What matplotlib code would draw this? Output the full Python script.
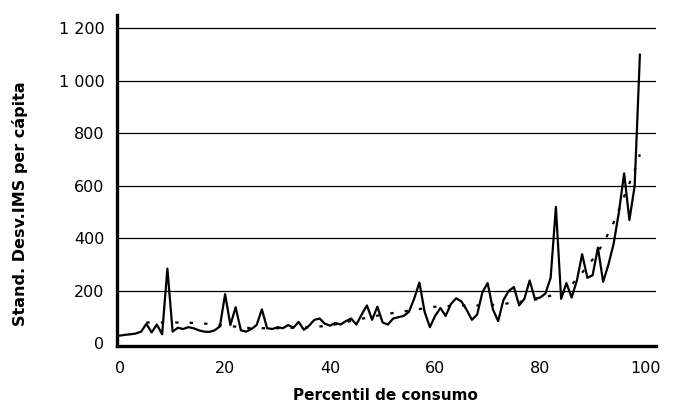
import matplotlib
matplotlib.use("Agg")
import matplotlib.pyplot as plt
from matplotlib.ticker import FuncFormatter

# Data
percentil = list(range(0, 100))
desv_ims = [30, 33, 35, 38, 45, 75, 42, 72, 35, 285,
            45, 60, 55, 62, 58, 50, 45, 44, 50, 65,
            188, 70, 138, 50, 45, 55, 70, 130, 58, 55,
            62, 58, 70, 60, 82, 52, 68, 90, 95, 75,
            68, 78, 72, 85, 95, 72, 110, 145, 90, 140,
            80, 72, 95, 100, 105, 120, 170, 232, 120, 62,
            105, 135, 105, 150, 172, 160, 128, 90, 110, 195,
            230, 130, 85, 165, 200, 215, 145, 170, 240, 170,
            175, 190, 250, 520, 170, 230, 175, 240, 340, 250,
            260, 365, 235, 300, 380, 500, 648, 470, 600, 1100]

trend_pct = [5, 10, 15, 20, 25, 30, 35, 40, 45, 50, 55, 60, 65, 70,
             75, 80, 85, 88, 90, 92, 94, 96, 98, 99]
trend_val = [80, 80, 78, 68, 58, 58, 60, 68, 90, 110, 125, 140, 145, 145,
             155, 170, 200, 270, 320, 380, 460, 560, 660, 720]

yticks = [0, 200, 400, 600, 800, 1000, 1200]
xticks = [0, 20, 40, 60, 80, 100]

plt.rcParams["font.family"] = ["DejaVu Sans"]

fig = plt.figure(figsize=(6.73, 4.07), dpi=100)
ax = fig.add_axes([0.1738, 0.150, 0.975 - 0.1738, 0.963 - 0.150])

for v in yticks[1:]:
    ax.axhline(v, color="black", lw=0.9, zorder=1)

ax.plot(percentil, desv_ims, color="black", lw=1.6, zorder=3,
        solid_joinstyle="round")
ax.plot(trend_pct, trend_val, color="black", lw=1.6, zorder=2,
        linestyle=(0, (1.5, 5)))

ax.set_xlim(-0.6, 102.1)
ax.set_ylim(-9.5, 1251)
ax.set_yticks(yticks)
ax.set_xticks(xticks)
ax.yaxis.set_major_formatter(FuncFormatter(lambda v, p: f"{int(v):,}".replace(",", " ")))
ax.tick_params(axis="both", length=0, labelsize=11.5)
ax.tick_params(axis="x", pad=11)
ax.tick_params(axis="y", pad=9)

for s in ["top", "right"]:
    ax.spines[s].set_visible(False)
ax.spines["left"].set_linewidth(2.4)
ax.spines["bottom"].set_linewidth(2.4)

ax.set_ylabel("Stand. Desv.IMS per cápita", fontsize=11.5, fontweight="bold")
ax.set_xlabel("Percentil de consumo", fontsize=11, fontweight="bold")
ax.yaxis.set_label_coords(-0.165, 0.43)
ax.xaxis.set_label_coords(0.497, -0.128)

fig.savefig("out.png", dpi=100)
